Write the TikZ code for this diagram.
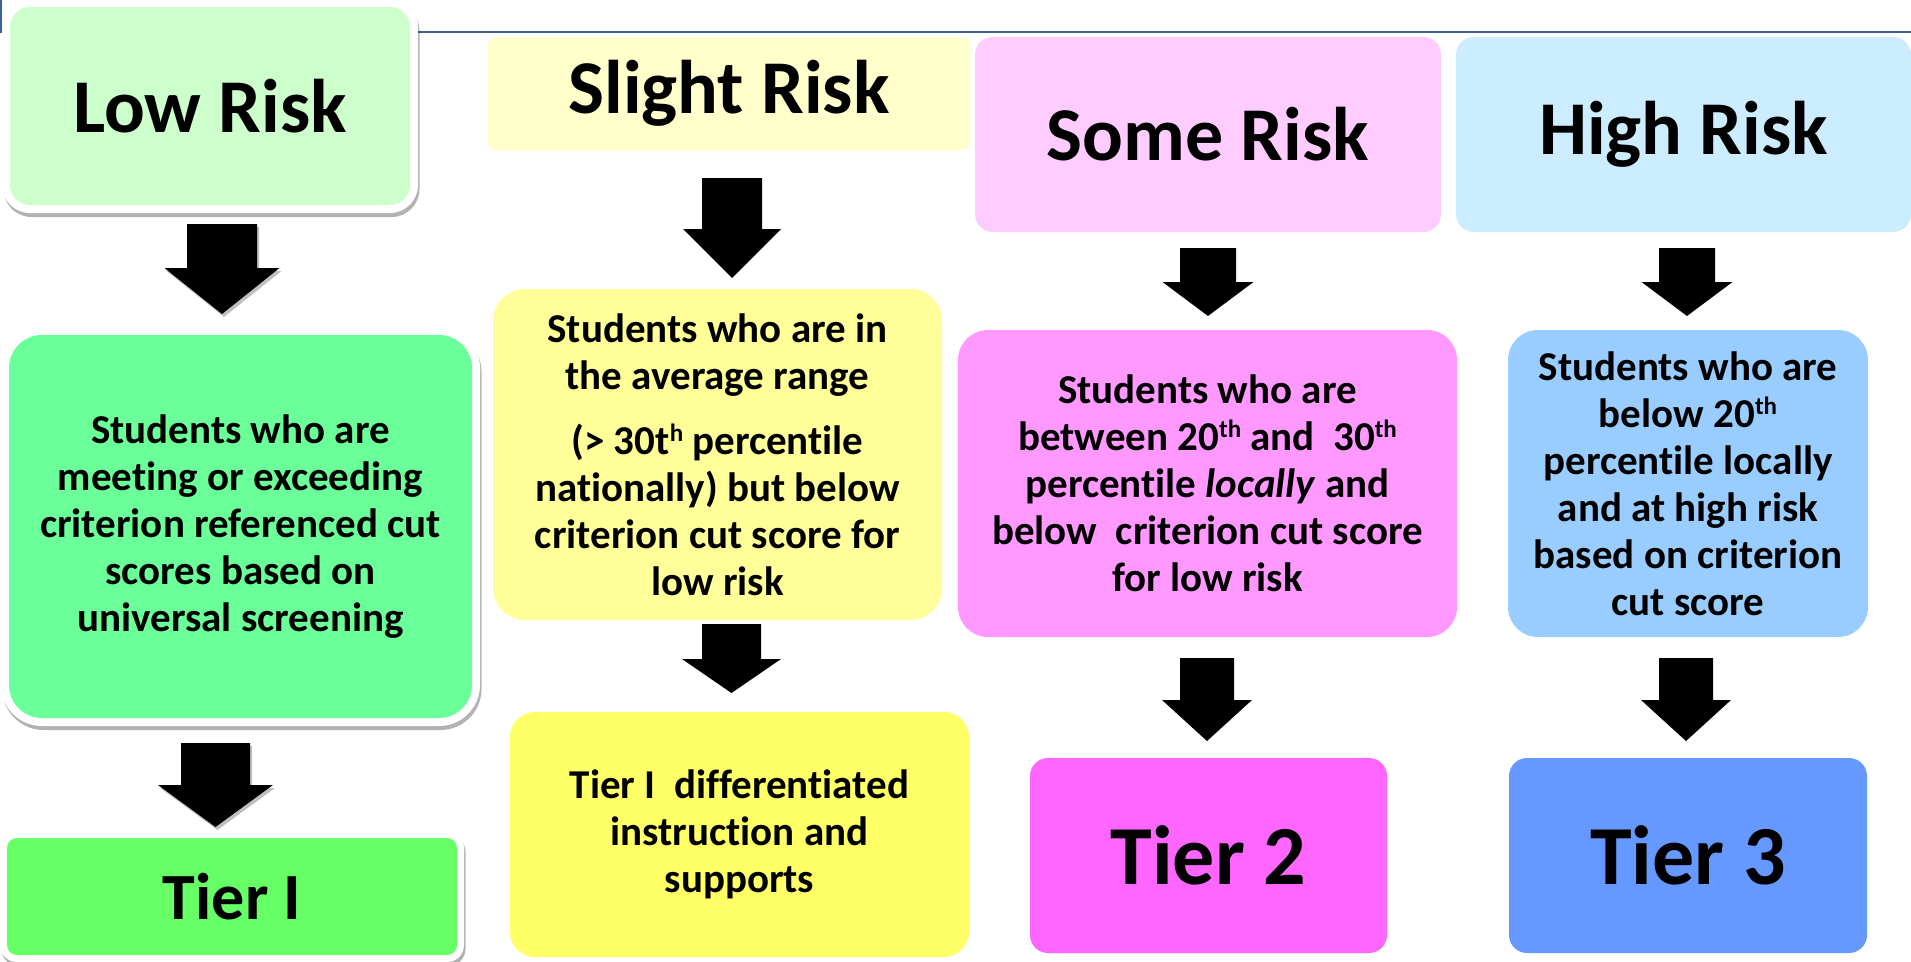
\documentclass[tikz,border=0pt]{standalone}
\usepackage{fontspec}
\setmainfont{Carlito}[Ligatures={NoCommon}]
\usetikzlibrary{shadows}

% fills: top row (risk level), middle row (description), bottom row (tier)
\definecolor{lowA}{HTML}{CCFFCC}
\definecolor{lowB}{HTML}{6BFF99}
\definecolor{lowC}{HTML}{66FF66}
\definecolor{slightA}{HTML}{FFFFCC}
\definecolor{slightB}{HTML}{FFFF99}
\definecolor{slightC}{HTML}{FFFF66}
\definecolor{someA}{HTML}{FFCCFF}
\definecolor{someB}{HTML}{FF99FF}
\definecolor{someC}{HTML}{FF66FF}
\definecolor{highA}{HTML}{CCECFF}
\definecolor{highB}{HTML}{99CCFF}
\definecolor{highC}{HTML}{6699FF}
\definecolor{rule}{HTML}{3E6098}

% raised ordinal suffix for the body text
\newcommand\ordsup[1]{\raisebox{13pt}{\fontsize{25}{25}\selectfont #1}}

% downward block arrow: centre x, top, neck, tip, half shaft, half head
\newcommand\blockdown[6]{%
  \fill[black] (#1-#5,#2) -- (#1+#5,#2) -- (#1+#5,#3) -- (#1+#6,#3)
    -- (#1,#4) -- (#1-#6,#3) -- (#1-#5,#3) -- cycle;}
\newcommand\blockdownshadow[6]{%
  \fill[black,opacity=0.25] (#1-#5+2,#2+3) -- (#1+#5+2,#2+3) -- (#1+#5+2,#3+3)
    -- (#1+#6+2,#3+3) -- (#1+2,#4+3) -- (#1-#6+2,#3+3) -- (#1-#5+2,#3+3) -- cycle;}

\begin{document}
\begin{tikzpicture}[x=1pt,y=-1pt,
  every node/.style={inner sep=0pt, outer sep=0pt, align=center, text=black},
  head/.style={font=\fontsize{76}{90}\selectfont\bfseries},
  body/.style={font=\fontsize{41}{47}\selectfont\bfseries},
  tier/.style={font=\fontsize{84}{100}\selectfont\bfseries},
  card/.style n args={4}{minimum width=#1, minimum height=#2,
    rounded corners=#3, fill=#4},
  framed/.style n args={5}{minimum width=#1, minimum height=#2,
    rounded corners=#3+#5, fill=white,
    drop shadow={shadow xshift=1.5pt, shadow yshift=-4pt, opacity=0.3, fill=black},
    path picture={\fill[#4, rounded corners=#3]
      ([xshift=#5, yshift=-#5]path picture bounding box.north west) rectangle
      ([xshift=-#5, yshift=#5]path picture bounding box.south east);}},
]
\useasboundingbox (0,0) rectangle (1911,961);
\fill[white] (0,0) rectangle (1911,961);

% frame rule running along the top
\draw[rule, line width=2pt] (0,32) -- (1911,32);
\draw[rule, line width=1.5pt] (1,0) -- (1,32);

% ---- risk levels
\node[framed={416pt}{214pt}{20pt}{lowA}{8pt}, head] (low) at (210,106) {Low Risk};
\node[card={482pt}{113pt}{8pt}{slightA}, head] (slight) at (729,93.5) {Slight Risk};
\node[card={466pt}{195pt}{18pt}{someA}, head] (some) at (1208,134.5) {Some Risk};
\node[card={455pt}{195pt}{18pt}{highA}, head] (high) at (1683.5,134.5) {High Risk};

% ---- descriptions
\node[framed={479pt}{399pt}{33pt}{lowB}{8pt}, body] (lowtext) at (240.5,526.5)
  {Students who are\\meeting or exceeding\\criterion referenced cut\\scores based on\\universal screening};
\node[card={449pt}{331pt}{32pt}{slightB}, body] (slighttext) at (717.5,454.5)
  {Students who are in\\the average range\\[18pt](> 30t\ordsup{h} percentile\\nationally) but below\\criterion cut score for\\low risk};
\node[card={499pt}{307pt}{30pt}{someB}, body] (sometext) at (1207.5,483.5)
  {Students who are\\between 20\ordsup{th} and\ \ 30\ordsup{th}\\percentile \textit{locally} and\\below\ \ criterion cut score\\for low risk};
\node[card={360pt}{307pt}{30pt}{highB}, body] (hightext) at (1688,483.5)
  {Students who are\\below 20\ordsup{th}\\percentile locally\\and at high risk\\based on criterion\\cut score};

% ---- tiers
\node[framed={464pt}{131pt}{10pt}{lowC}{7pt}, font=\fontsize{66}{80}\selectfont\bfseries] (tierone) at (232,896.5) {Tier I};
\node[card={459pt}{245pt}{25pt}{slightC}, body] (tieronediff) at (739.5,834.5)
  {Tier I\ \ differentiated\\instruction and\\supports};
\node[card={357pt}{195pt}{18pt}{someC}, tier] (tiertwo) at (1208.5,855.5) {Tier 2};
\node[card={358pt}{195pt}{18pt}{highC}, tier] (tierthree) at (1688,855.5) {Tier 3};

% ---- arrows between the rows
\blockdownshadow{222}{224}{268}{314}{35}{57.5}
\blockdown{222}{224}{268}{314}{35}{57.5}
\blockdownshadow{215.5}{743}{785}{827}{34.5}{57.5}
\blockdown{215.5}{743}{785}{827}{34.5}{57.5}
\blockdown{732}{178}{229}{278}{30}{49}
\blockdown{731.5}{624}{659}{693}{29.5}{49.5}
\blockdown{1208}{248}{282}{316}{28}{45.5}
\blockdown{1207}{658}{700}{741}{27}{45}
\blockdown{1687}{248}{282}{316}{28}{45.5}
\blockdown{1686}{658}{700}{741}{27}{45}
\end{tikzpicture}
\end{document}
